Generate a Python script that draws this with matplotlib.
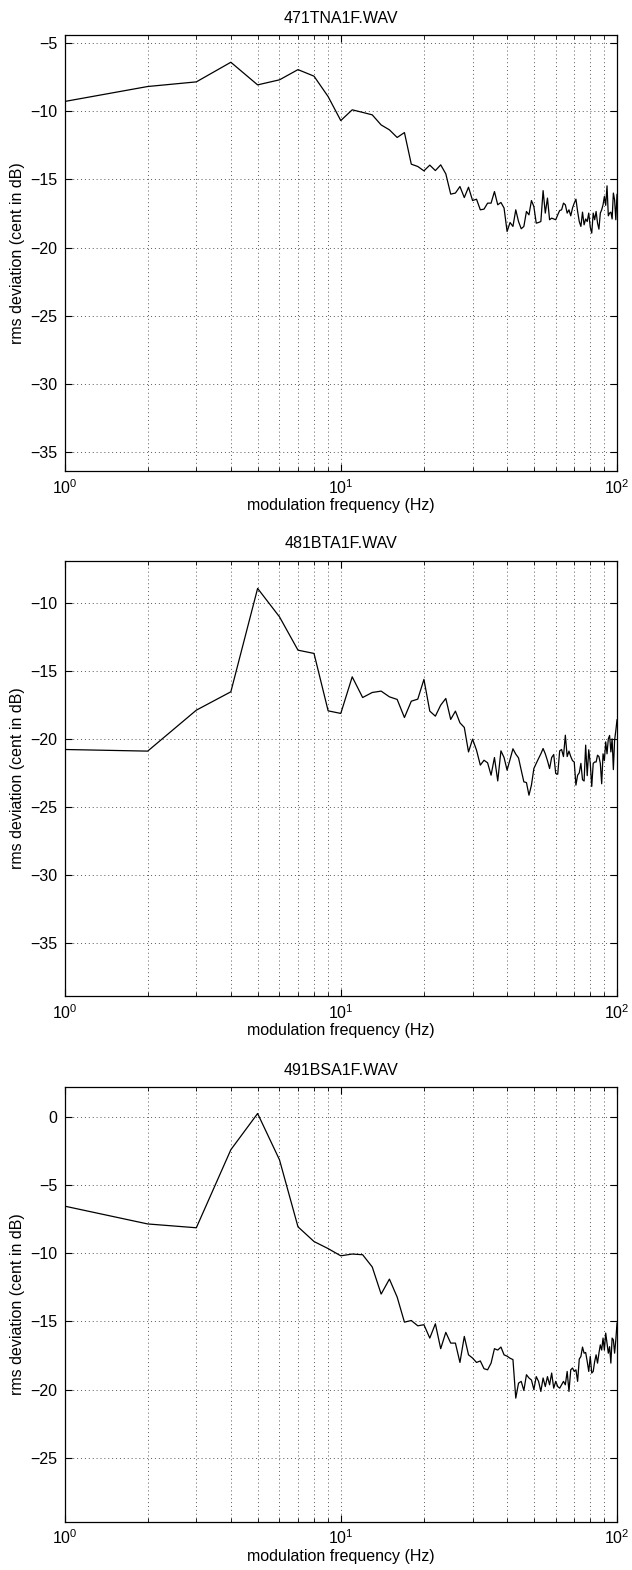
import matplotlib
matplotlib.use("Agg")
import matplotlib.pyplot as plt
import numpy as np

plt.rcParams['font.family'] = ['Liberation Sans', 'DejaVu Sans']
plt.rcParams['mathtext.fontset'] = 'custom'
plt.rcParams['mathtext.rm'] = 'Liberation Sans'
plt.rcParams['font.size'] = 11.5

# modulation frequencies (Hz), one value per integer frequency
freq = np.arange(1, 101)

titles = ['471TNA1F.WAV', '481BTA1F.WAV', '491BSA1F.WAV']

tna = [-9.28, -8.18, -7.84, -6.40, -8.06, -7.69, -6.94, -7.42, -8.92, -10.68,
       -9.89, -10.08, -10.26, -11.0, -11.36, -11.92, -11.56, -13.88, -14.05, -14.37,
       -13.95, -14.35, -13.93, -14.59, -16.08, -16.0, -15.52, -16.33, -15.57, -16.55,
       -16.45, -17.23, -17.18, -16.74, -16.74, -15.89, -16.86, -16.69, -17.1, -18.82,
       -18.16, -18.45, -17.23, -18.09, -18.62, -18.45, -17.35, -17.6, -16.55, -16.99,
       -18.21, -18.16, -18.09, -15.82, -17.47, -16.37, -17.96, -17.84, -17.9, -17.96,
       -17.6, -17.28, -17.23, -16.74, -16.86, -17.47, -17.23, -17.67, -17.1, -16.74,
       -16.45, -17.35, -18.09, -18.45, -17.4, -18.33, -17.9, -18.09, -17.47, -18.5,
       -18.94, -17.47, -17.96, -17.35, -18.2, -18.65, -17.47, -17.23, -16.86, -16.25,
       -16.9, -15.47, -17.67, -17.47, -17.4, -17.9, -16.0, -16.5, -17.96, -16.1]

bta = [-20.78, -20.9, -17.89, -16.54, -8.94, -11.03, -13.48, -13.72, -17.94, -18.13,
       -15.44, -16.96, -16.59, -16.49, -16.91, -17.1, -18.43, -17.23, -17.08, -15.63,
       -17.96, -18.33, -17.52, -17.03, -18.57, -17.96, -18.82, -19.16, -20.96, -20.02,
       -20.83, -21.93, -21.57, -21.76, -22.67, -21.37, -23.09, -20.88, -21.37, -22.3,
       -21.51, -20.73, -21.12, -21.4, -22.3, -23.16, -23.21, -24.14, -23.4, -22.18,
       -21.8, -21.44, -21.1, -20.71, -21.1, -21.6, -22.18, -21.37, -21.15, -22.55,
       -22.6, -20.88, -20.78, -21.3, -19.73, -21.3, -20.9, -21.3, -21.6, -21.7,
       -23.4, -22.67, -22.5, -21.8, -23.0, -23.1, -20.46, -22.7, -20.8, -21.8,
       -23.5, -21.8, -21.7, -21.7, -21.2, -21.3, -21.8, -23.3, -21.1, -21.6,
       -20.22, -21.1, -20.0, -19.75, -20.96, -20.0, -22.26, -20.1, -19.4, -18.6]

bsa = [-6.53, -7.84, -8.12, -2.39, 0.27, -3.13, -8.05, -9.13, -9.65, -10.18,
       -10.05, -10.1, -11.0, -12.99, -11.89, -13.21, -15.05, -14.93, -15.32, -15.24,
       -16.22, -15.17, -17.0, -15.8, -16.59, -16.59, -18.01, -16.1, -17.45, -17.69,
       -18.01, -17.9, -18.47, -18.55, -18.06, -17.0, -17.1, -16.88, -17.45, -17.55,
       -17.7, -17.8, -20.63, -19.53, -19.4, -20.07, -18.91, -19.15, -19.3, -20.0,
       -19.05, -19.4, -20.14, -19.15, -19.78, -19.05, -19.65, -18.79, -19.9, -19.4,
       -19.78, -19.9, -19.65, -19.4, -19.65, -18.67, -20.14, -18.55, -18.42, -18.67,
       -18.55, -19.4, -17.76, -17.57, -16.88, -17.33, -17.28, -17.94, -18.67, -17.57,
       -18.79, -18.67, -17.94, -17.45, -18.06, -17.33, -16.72, -17.1, -16.22, -17.1,
       -15.85, -16.6, -17.33, -16.85, -18.06, -16.22, -16.35, -17.33, -16.35, -15.12]

series = [tna, bta, bsa]
ylims = [(-36.4, -4.4), (-38.9, -6.9), (-29.7, 2.2)]
yticks = [np.arange(-35, -4, 5), np.arange(-35, -9, 5), np.arange(-25, 1, 5)]

fig = plt.figure(figsize=(6.32, 15.70), dpi=100)

# axes boxes in figure fractions [left, bottom, width, height]
boxes = [[0.1021, 0.700, 0.8742, 0.2777],
         [0.1021, 0.3656, 0.8742, 0.2773],
         [0.1021, 0.0308, 0.8742, 0.2767]]

for i in range(3):
    ax = fig.add_axes(boxes[i])
    ax.semilogx(freq, series[i], color='black', lw=0.9)
    ax.set_xlim(1, 100)
    ax.set_ylim(ylims[i])
    ax.set_yticks(yticks[i])
    ax.grid(True, which='major', axis='both', ls=(0, (1, 3)), color='0.35', lw=0.7)
    ax.grid(True, which='minor', axis='x', ls=(0, (1, 3)), color='0.35', lw=0.7)
    ax.tick_params(which='both', direction='in', top=True, right=True)
    ax.tick_params(which='major', length=5, pad=5)
    ax.tick_params(which='minor', length=3)
    for s in ax.spines.values():
        s.set_linewidth(0.9)
    ax.set_title(titles[i], fontsize=11.5, pad=9)
    ax.set_xlabel('modulation frequency (Hz)', labelpad=1)
    ax.set_ylabel('rms deviation (cent in dB)', labelpad=4)

fig.savefig('out.png', dpi=100)
